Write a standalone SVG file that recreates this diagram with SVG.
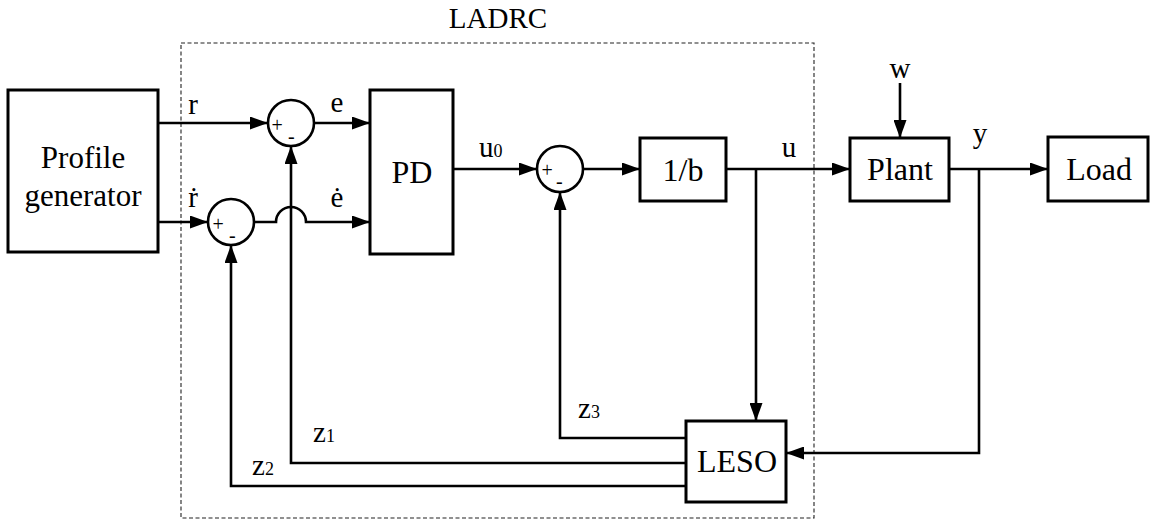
<svg xmlns="http://www.w3.org/2000/svg" width="1153" height="523" viewBox="0 0 1153 523">
<defs>
<marker id="arr" markerUnits="userSpaceOnUse" viewBox="0 0 18 13" refX="18" refY="6.5" markerWidth="18" markerHeight="13" orient="auto">
<path d="M0 0 L18 6.5 L0 13 Z" fill="#000"/>
</marker>
<style>
.box{fill:#fff;stroke:#000;stroke-width:3}
.sum{fill:#fff;stroke:#000;stroke-width:2.6}
.ln{fill:none;stroke:#000;stroke-width:2.6}
.a{marker-end:url(#arr)}
.t{font-family:"Liberation Serif","DejaVu Serif",serif;fill:#000}
.bl{font-size:32px;text-anchor:middle}
.sl{font-size:29px;text-anchor:middle}
.sg{font-size:20px}
.sub{font-size:18px}
.dash{fill:none;stroke:#222;stroke-width:1.1;stroke-dasharray:4 2.5}
</style>
</defs>
<rect width="1153" height="523" fill="#fff"/>
<rect id="ladrc" class="dash" x="181" y="43" width="633" height="475"/>
<text class="t bl" x="498" y="28" style="font-size:29px">LADRC</text>

<g id="connectors">
<path class="ln a" d="M158 123 H268"/>
<path class="ln a" d="M314 123 H370"/>
<path class="ln a" d="M158 222 H208"/>
<path class="ln a" d="M254 222 H276 A15 15 0 0 1 306 222 H370"/>
<path class="ln a" d="M453 169 H537"/>
<path class="ln a" d="M583 169 H640"/>
<path class="ln a" d="M726 169 H850"/>
<path class="ln a" d="M900 83 V138"/>
<path class="ln a" d="M949 169 H1048"/>
<path class="ln a" d="M979 169 V453 H786"/>
<path class="ln a" d="M756 169 V421"/>
<path class="ln a" d="M686 438 H560 V192"/>
<path class="ln a" d="M686 463 H291 V146"/>
<path class="ln a" d="M686 486 H231 V245"/>
</g>

<g id="profile">
<rect class="box" x="8" y="90" width="150" height="162"/>
<text class="t bl" x="83" y="168" style="font-size:31px">Profile</text>
<text class="t bl" x="83" y="206" style="font-size:31px">generator</text>
</g>
<g id="sum1">
<circle class="sum" cx="291" cy="123" r="23"/>
<text class="t sg" x="271.5" y="131.5">+</text>
<text class="t sg" x="288" y="143">-</text>
</g>
<g id="sum2">
<circle class="sum" cx="231" cy="222" r="23"/>
<text class="t sg" x="212.5" y="230.5">+</text>
<text class="t sg" x="229" y="242">-</text>
</g>
<g id="pd">
<rect class="box" x="370" y="90" width="83" height="164"/>
<text class="t bl" x="412" y="183">PD</text>
</g>
<g id="sum3">
<circle class="sum" cx="560" cy="169" r="23"/>
<text class="t sg" x="541.5" y="177">+</text>
<text class="t sg" x="556" y="188">-</text>
</g>
<g id="invb">
<rect class="box" x="640" y="138" width="86" height="63"/>
<text class="t bl" x="683" y="181">1/b</text>
</g>
<g id="plant">
<rect class="box" x="850" y="138" width="99" height="63"/>
<text class="t bl" x="900" y="180">Plant</text>
</g>
<g id="load">
<rect class="box" x="1048" y="137" width="100" height="64"/>
<text class="t bl" x="1099" y="180">Load</text>
</g>
<g id="leso">
<rect class="box" x="686" y="421" width="100" height="81"/>
<text class="t bl" x="737" y="472">LESO</text>
</g>

<g id="labels">
<text class="t sl" x="193" y="114">r</text>
<text class="t sl" x="193" y="207">ṙ</text>
<text class="t sl" x="337" y="112">e</text>
<text class="t sl" x="337" y="207">ė</text>
<text class="t" x="479" y="157" style="font-size:29px">u<tspan class="sub">0</tspan></text>
<text class="t sl" x="789" y="157">u</text>
<text class="t sl" x="900" y="78">w</text>
<text class="t sl" x="980" y="143">y</text>
<text class="t" x="578" y="418" style="font-size:29px">z<tspan class="sub">3</tspan></text>
<text class="t" x="313" y="442" style="font-size:29px">z<tspan class="sub">1</tspan></text>
<text class="t" x="252" y="475" style="font-size:29px">z<tspan class="sub">2</tspan></text>
</g>
</svg>
